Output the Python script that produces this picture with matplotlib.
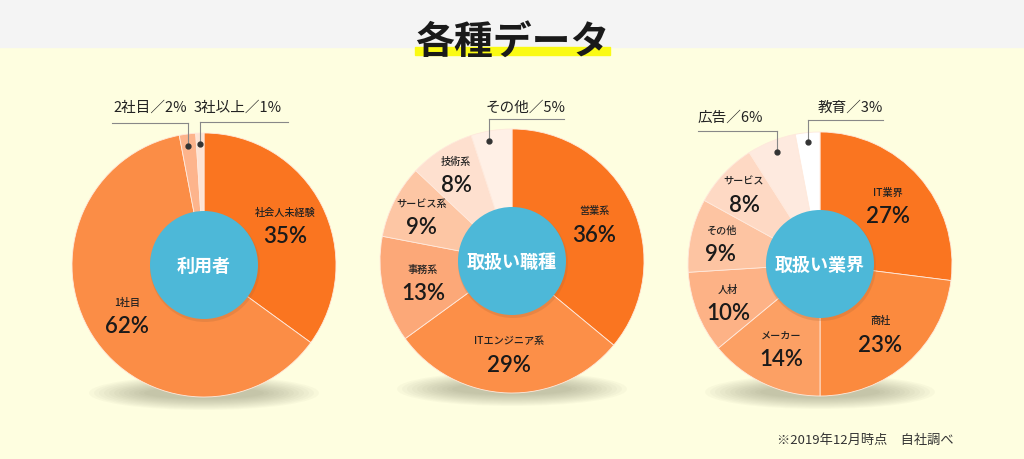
import numpy as np
import matplotlib.pyplot as plt
from matplotlib.patches import Circle, Ellipse, Rectangle

plt.rcParams['font.family'] = ['Noto Sans CJK JP', 'DejaVu Sans']

W, H = 1024, 460

# --- data ---
title = "各種データ"
note = "※2019年12月時点　自社調べ"

users_labels = ["社会人未経験", "1社目", "2社目", "3社以上"]
users_values = [35, 62, 2, 1]
users_colors = ["#fa7520", "#fb8d46", "#fdb48c", "#fde3d4"]

jobs_labels = ["営業系", "ITエンジニア系", "事務系", "サービス系", "技術系", "その他"]
jobs_values = [36, 29, 13, 9, 8, 5]
jobs_colors = ["#fa7520", "#fc8f48", "#fca878", "#fdc6a4", "#fee0cf", "#fff0e6"]

ind_labels = ["IT業界", "商社", "メーカー", "人材", "その他", "サービス", "広告", "教育"]
ind_values = [27, 23, 14, 10, 9, 8, 6, 3]
ind_colors = ["#fa7520", "#fb8a3e", "#fca064", "#fdb286", "#fdc4a2", "#fed9c4",
              "#feeadf", "#ffffff"]

# pies: (centre name, labels, values, colors, centre x, centre y (px from top),
#        small slices with callouts -> index: (text x, text y, line left, line right, line y, dot x, dot y))
pies = [
    ("利用者", users_labels, users_values, users_colors, 204, 266, {
        2: (150, 108, 112, 188, 124, 188, 147),
        3: (238, 108, 200, 288, 123, 200, 145),
    }),
    ("取扱い職種", jobs_labels, jobs_values, jobs_colors, 512, 262, {
        5: (526, 108, 489, 564, 120, 489, 142),
    }),
    ("取扱い業界", ind_labels, ind_values, ind_colors, 820, 265, {
        6: (730, 118, 698, 777, 132, 777, 153),
        7: (850, 108, 808, 883, 121, 808, 143),
    }),
]
R = 132
R_IN = 54

fig = plt.figure(figsize=(W / 100, H / 100), dpi=100)
fig.patch.set_facecolor("#fefee0")
ax = fig.add_axes([0, 0, 1, 1])
ax.set_facecolor("#fefee0")

# header band + title
ax.add_patch(Rectangle((0, H - 48), W, 48, color="#f4f4f4", zorder=0))
ax.add_patch(Rectangle((415, H - 56), 195, 8, color="#fafa14", zorder=1))
ax.text(512, H - 42, title, ha="center", va="center", fontsize=28,
        fontweight="bold", color="#1a1a1a", zorder=2)

for name, labels, values, colors, cx, cy_top, callouts in pies:
    cy = H - cy_top
    # soft shadow under pie
    for k in range(12):
        ax.add_patch(Ellipse((cx, cy - R + 4), 230 - k * 10, 34 - k * 2,
                             color="#6a6a50", alpha=0.035, lw=0, zorder=1))
    wedges, _ = ax.pie(values, colors=colors, startangle=90, counterclock=False,
                       center=(cx, cy), radius=R, frame=True,
                       wedgeprops=dict(edgecolor="#ffe9dc", linewidth=0.6))
    for w in wedges:
        w.set_zorder(2)

    for i, w in enumerate(wedges):
        if i in callouts:
            tx, ty, lx0, lx1, ly, dx, dy = callouts[i]
            ax.text(tx, H - ty, f"{labels[i]}／{values[i]}%", ha="center",
                    va="center", fontsize=10.5, color="#222222", zorder=4,
                    family=['Noto Sans CJK JP', 'DejaVu Sans'])
            ax.plot([lx0, lx1], [H - ly, H - ly], color="#888888", lw=0.8, zorder=4)
            ax.plot([dx, dx], [H - ly, H - dy], color="#888888", lw=0.8, zorder=4)
            ax.plot(dx, H - dy, "o", color="#333333", ms=3.5, zorder=4)
            continue
        mid = np.deg2rad((w.theta1 + w.theta2) / 2)
        # thin slices get their label pushed further out
        rr = R * (0.69 + 0.1 * max(0, 13 - values[i]) / 5)
        x = cx + rr * np.cos(mid)
        y = cy + rr * np.sin(mid)
        ax.text(x, y + 12, labels[i], ha="center", va="center", fontsize=7.3,
                fontweight="medium", color="#222222", zorder=4)
        ax.text(x, y - 12, f"{values[i]}%", ha="center", va="center",
                fontsize=16, fontweight="semibold", color="#1a1a1a", zorder=4,
                family=['Lato', 'Noto Sans CJK JP'])

    # centre circle
    ax.add_patch(Circle((cx + 1, cy - 2), R_IN + 1, color="#b06a3a", alpha=0.25,
                        lw=0, zorder=3))
    ax.add_patch(Circle((cx, cy), R_IN, color="#4db8d8", lw=0, zorder=3))
    ax.text(cx, cy, name, ha="center", va="center", fontsize=13,
            fontweight="bold", color="white", zorder=4)

ax.text(865, H - 440, note, ha="center", va="center", fontsize=9.5,
        color="#333333")

ax.set_xlim(0, W)
ax.set_ylim(0, H)
ax.set_aspect("auto")
ax.axis("off")

fig.savefig("out.png", dpi=100, facecolor=fig.get_facecolor())
